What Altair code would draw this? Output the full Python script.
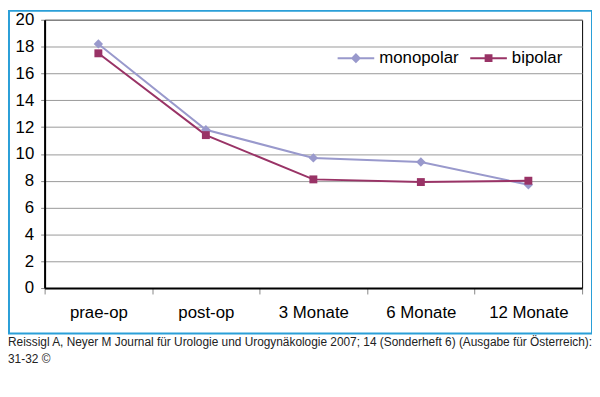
import altair as alt
import pandas as pd

CATEGORIES = ["prae-op", "post-op", "3 Monate", "6 Monate", "12 Monate"]
SERIES = ["monopolar", "bipolar"]
MONOPOLAR = [18.2, 11.8, 9.7, 9.4, 7.7]
BIPOLAR = [17.5, 11.4, 8.1, 7.9, 8.0]
Y_TICKS = [0, 2, 4, 6, 8, 10, 12, 14, 16, 18, 20]
CAPTION = ("Reissigl A, Neyer M Journal für Urologie und Urogynäkologie 2007; 14 (Sonderheft 6) (Ausgabe für Österreich):\n"
           "31-32 ©")

COLORS = ["#9999CC", "#993366"]
FONT = "Liberation Sans"

rows = []
for c, v in zip(CATEGORIES, MONOPOLAR):
    rows.append({"cat": c, "series": "monopolar", "value": v})
for c, v in zip(CATEGORIES, BIPOLAR):
    rows.append({"cat": c, "series": "bipolar", "value": v})
df = pd.DataFrame(rows)

x_enc = alt.X("cat:N", sort=CATEGORIES, bandPosition=0.5,
              scale=alt.Scale(type="band", domain=CATEGORIES, paddingInner=0, paddingOuter=0),
              axis=alt.Axis(title=None, tickBand="extent", grid=False, domain=True,
                            domainColor="black", domainWidth=2, tickColor="#888888",
                            tickSize=6, labelFontSize=17, labelFont=FONT, labelColor="black",
                            labelPadding=11, labelAngle=0))
y_enc = alt.Y("value:Q", scale=alt.Scale(domain=[0, 20], nice=False, zero=True),
              axis=alt.Axis(title=None, values=Y_TICKS, grid=True, gridColor="#999999",
                            gridWidth=1, domain=True, domainColor="black", domainWidth=2,
                            tickColor="#888888", tickSize=4, labelFontSize=17, labelFont=FONT,
                            labelColor="black", labelPadding=7))

color_scale = alt.Scale(domain=SERIES, range=COLORS)

lines = alt.Chart(df).mark_line(strokeWidth=2).encode(
    x=x_enc, y=y_enc,
    color=alt.Color("series:N", scale=color_scale, legend=None),
    detail="series:N",
)

point_layers = []
for s, col, shp, sz in zip(SERIES, COLORS, ["diamond", "square"], [90, 64]):
    point_layers.append(
        alt.Chart(df).transform_filter(alt.datum.series == s)
        .mark_point(filled=True, opacity=1, color=col, shape=shp, size=sz)
        .encode(x=x_enc, y=y_enc)
    )

legend_props = dict(title=None, orient="none", legendX=295, legendY=19,
                    direction="horizontal", symbolSize=1369,
                    symbolStrokeWidth=2, labelFontSize=17, labelFont=FONT,
                    labelColor="black", labelOffset=4, columnPadding=7,
                    symbolOpacity=1)

legend_layer = alt.Chart(df).mark_point(filled=True, opacity=1, strokeWidth=2).encode(
    x=x_enc, y=y_enc,
    fill=alt.Fill("series:N", scale=color_scale, legend=alt.Legend(**legend_props)),
    stroke=alt.Stroke("series:N", scale=color_scale, legend=alt.Legend(**legend_props)),
    shape=alt.Shape("series:N",
                    scale=alt.Scale(domain=SERIES, range=[
                        "M-1,0H1M0,-0.2L0.2,0L0,0.2L-0.2,0Z",
                        "M-1,0H1M-0.16,-0.16H0.16V0.16H-0.16Z"]),
                    legend=alt.Legend(**legend_props)),
).transform_filter("false")

frame = alt.Chart(pd.DataFrame({"k": [0]})).mark_rect(
    fill=None, stroke="#2A9FD8", strokeWidth=2
).encode(x=alt.value(-36), x2=alt.value(553), y=alt.value(-9), y2=alt.value(317))

caption = alt.Chart(pd.DataFrame({"t": [CAPTION]})).mark_text(
    align="left", baseline="top", fontSize=12, font=FONT, color="#222222",
    lineBreak="\n", lineHeight=17
).encode(x=alt.value(-37), y=alt.value(321), text="t:N")

chart = alt.layer(frame, lines, *point_layers, legend_layer, caption).resolve_scale(
    shape="independent", fill="independent", stroke="independent"
).properties(
    width=543, height=271,
    autosize=alt.AutoSizeParams(type="none"),
    padding={"left": 37, "top": 10, "right": 10, "bottom": 89},
).configure_view(stroke="black", strokeWidth=1)

chart.save("out.html", embed_options={"renderer": "svg", "actions": False})
